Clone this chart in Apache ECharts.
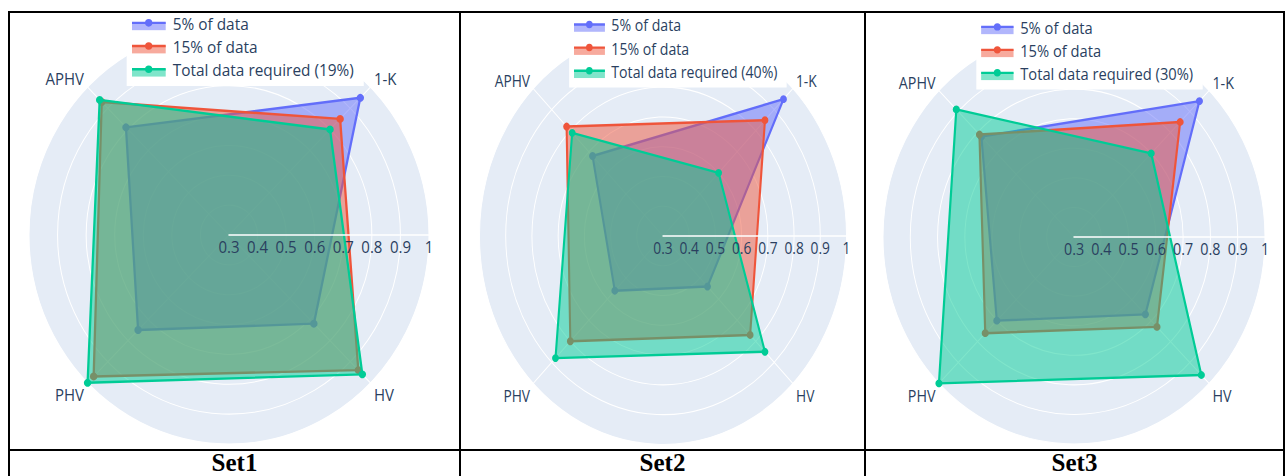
<!DOCTYPE html>
<html><head><meta charset="utf-8">
<script src="https://cdn.jsdelivr.net/npm/echarts@6/dist/echarts.min.js"></script>
<style>
html,body{margin:0;padding:0;background:#fff;width:1286px;height:476px;overflow:hidden;}
.cell{position:absolute;overflow:hidden;}
.chart{position:absolute;width:460px;height:480px;transform-origin:230px 240px;}
.ln{position:absolute;background:#000;z-index:5;}
.lab{position:absolute;top:451px;height:24px;font-family:'Liberation Serif','Times New Roman',serif;font-weight:bold;font-size:25px;line-height:24px;text-align:center;color:#000;}
</style></head><body>
<div class="cell" id="cell0" style="left:10px;top:13px;width:449px;height:436px;"><div class="chart" id="c0"></div></div>
<div class="cell" id="cell1" style="left:461px;top:13px;width:403px;height:436px;"><div class="chart" id="c1"></div></div>
<div class="cell" id="cell2" style="left:866px;top:13px;width:417px;height:436px;"><div class="chart" id="c2"></div></div>
<div class="ln" style="left:8px;top:11px;width:1277px;height:2px;"></div>
<div class="ln" style="left:8px;top:11px;width:2px;height:465px;"></div>
<div class="ln" style="left:459px;top:11px;width:2px;height:465px;"></div>
<div class="ln" style="left:864px;top:11px;width:2px;height:465px;"></div>
<div class="ln" style="left:1283px;top:11px;width:2px;height:465px;"></div>
<div class="ln" style="left:8px;top:449px;width:1277px;height:2px;"></div>
<div class="lab" id="t0" style="left:10px;width:449px;"></div>
<div class="lab" id="t1" style="left:461px;width:403px;"></div>
<div class="lab" id="t2" style="left:866px;width:417px;"></div>
<script>
// ---- data ----
const indicators = ['1-K', 'APHV', 'PHV', 'HV'];
const legendNames = ['5% of data', '15% of data'];
const totalNames = ['Total data required (19%)', 'Total data required (40%)', 'Total data required (30%)'];
const setNames = ['Set1', 'Set2', 'Set3'];
const radialMin = 0.3;
const radialMax = 1;
const radialStep = 0.1;

const set1Five    = [0.95, 0.81, 0.75, 0.72];
const set1Fifteen = [0.85, 0.93, 0.97, 0.94];
const set1Total   = [0.80, 0.94, 1.00, 0.96];

const set2Five    = [0.95, 0.68, 0.56, 0.54];
const set2Fifteen = [0.85, 0.82, 0.80, 0.77];
const set2Total   = [0.60, 0.79, 0.88, 0.85];

const set3Five    = [0.95, 0.78, 0.70, 0.67];
const set3Fifteen = [0.85, 0.79, 0.76, 0.73];
const set3Total   = [0.70, 0.91, 1.00, 0.96];

// ---- styling / layout ----
const colors = ['#636EFA', '#EF553B', '#00CC96'];
const textColor = '#2a3f5f';
const BX = 230, BY = 240, BR = 200;
const panels = [
  {cellLeft: 10,  cellTop: 13, cx: 229.3, cy: 235.3, k: 1.0,    sv: 1.045, series: [set1Five, set1Fifteen, set1Total], total: totalNames[0]},
  {cellLeft: 461, cellTop: 13, cx: 662.7, cy: 236.0, k: 0.9175, sv: 1.042, series: [set2Five, set2Fifteen, set2Total], total: totalNames[1]},
  {cellLeft: 866, cellTop: 13, cx: 1074,  cy: 237.0, k: 0.955,  sv: 1.035, series: [set3Five, set3Fifteen, set3Total], total: totalNames[2]}
];

function iconFor(c) {
  const svg = "<svg xmlns='http://www.w3.org/2000/svg' width='36' height='16' viewBox='0 0 36 16'>" +
    "<rect x='0' y='7' width='34' height='7.5' fill='" + c + "' fill-opacity='0.5'/>" +
    "<line x1='0' y1='7.5' x2='34' y2='7.5' stroke='" + c + "' stroke-width='2.3'/>" +
    "<circle cx='17' cy='7.5' r='3.6' fill='" + c + "'/></svg>";
  return 'image://data:image/svg+xml;charset=utf-8,' + encodeURIComponent(svg);
}

function buildOption(p) {
  const names = [legendNames[0], legendNames[1], p.total];
  return {
    animation: false,
    textStyle: {fontFamily: 'Open Sans'},
    legend: {
      orient: 'vertical',
      left: BX - 97.3 - 5,
      top: 24.5,
      padding: [5, 10, 7.6, 5],
      itemWidth: 36,
      itemHeight: 16,
      itemGap: 6.2,
      backgroundColor: '#ffffff',
      textStyle: {color: textColor, fontSize: 15.4, fontFamily: 'Open Sans'},
      data: names.map((n, i) => ({name: n, icon: iconFor(colors[i])}))
    },
    radar: {
      center: [BX, BY],
      radius: BR,
      startAngle: 45,
      shape: 'circle',
      splitNumber: Math.round((radialMax - radialMin) / radialStep),
      indicator: indicators.map(n => ({name: n, min: radialMin, max: radialMax})),
      axisName: {
        color: textColor, fontSize: 15, fontFamily: 'Open Sans',
        formatter: (name) => (name === 'PHV' || name === 'HV') ? '{lo|' + name + '}' : '{hi|' + name + '}',
        rich: {
          lo: {color: textColor, fontSize: 15, fontFamily: 'Open Sans', padding: [16, 0, 0, 0]},
          hi: {color: textColor, fontSize: 15, fontFamily: 'Open Sans', padding: [0, 0, 8, 0]}
        }
      },
      nameGap: 5,
      splitArea: {show: true, areaStyle: {color: ['#E5ECF6']}},
      splitLine: {lineStyle: {color: '#ffffff', width: 1}},
      axisLine: {lineStyle: {color: '#ffffff', width: 1}}
    },
    polar: {center: [BX, BY], radius: BR},
    angleAxis: {type: 'value', min: 0, max: 360, startAngle: 0, show: false},
    radiusAxis: {
      type: 'value', min: radialMin, max: radialMax, interval: radialStep, z: 10,
      axisLine: {show: true, lineStyle: {color: '#ffffff', width: 1.5}},
      axisTick: {show: false},
      splitLine: {show: false},
      axisLabel: {color: textColor, fontSize: 15, fontFamily: 'Open Sans', margin: -4, verticalAlign: 'top'}
    },
    series: p.series.map((vals, i) => ({
      type: 'radar',
      name: names[i],
      z: 2 + i,
      symbol: 'circle',
      symbolSize: 7.5,
      itemStyle: {color: colors[i]},
      lineStyle: {color: colors[i], width: 2.3},
      areaStyle: {color: colors[i], opacity: 0.5},
      data: [{name: names[i], value: vals}]
    }))
  };
}

panels.forEach((p, i) => {
  const el = document.getElementById('c' + i);
  el.style.left = (p.cx - p.cellLeft - BX) + 'px';
  el.style.top = (p.cy - p.cellTop - BY) + 'px';
  el.style.transform = 'scale(' + p.k + ',' + p.sv + ')';
  const chart = echarts.init(el, null, {renderer: 'svg'});
  chart.setOption(buildOption(p));
  document.getElementById('t' + i).textContent = setNames[i];
});
</script>
</body></html>
